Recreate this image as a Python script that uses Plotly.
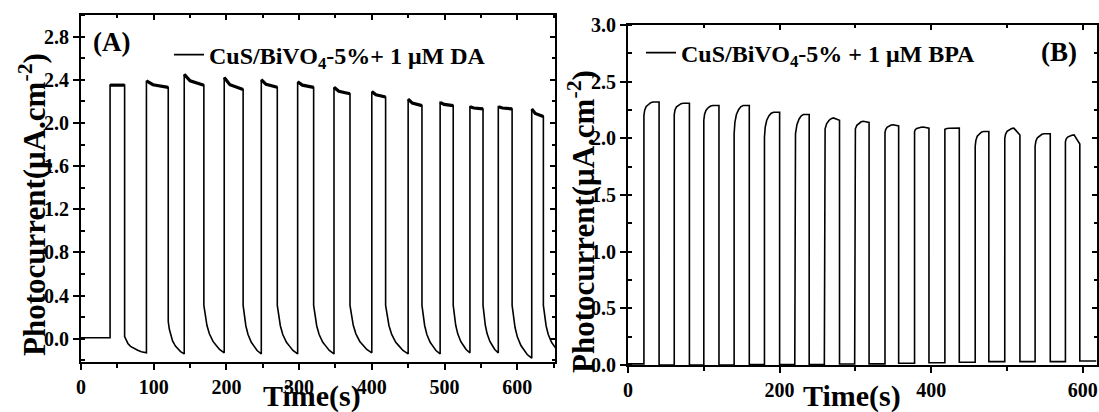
import plotly.graph_objects as go

# ---------------- data ----------------
# Panel A : CuS/BiVO4-5% + 1 uM DA
pre_level_A = 0.01
on_times_A = [40, 90, 142, 197, 248, 298, 348, 400, 450, 494, 535, 574, 620]
off_times_A = [60, 120, 169, 223, 270, 320, 370, 419, 469, 512, 553, 593, 636]
top_start_A = [2.35, 2.39, 2.45, 2.42, 2.40, 2.38, 2.33, 2.29, 2.22, 2.19, 2.15, 2.15, 2.13]
top_end_A = [2.35, 2.33, 2.35, 2.31, 2.33, 2.33, 2.27, 2.24, 2.16, 2.16, 2.13, 2.13, 2.06]
off_start_A = [0.02, 0.16, 0.31, 0.31, 0.31, 0.31, 0.31, 0.31, 0.31, 0.31, 0.31, 0.31, 0.31]
off_end_A = [-0.13, -0.14, -0.13, -0.14, -0.14, -0.14, -0.13, -0.14, -0.14, -0.13, -0.13, -0.18, -0.14]
last_off_span_A = 25
# decay profile of an "off" period (fraction of period, normalised level)
decay_frac = [0.0, 0.07, 0.15, 0.27, 0.45, 0.60, 0.77, 1.0]
decay_level = [1.0, 0.76, 0.58, 0.40, 0.24, 0.16, 0.07, 0.0]

# Panel B : CuS/BiVO4-5% + 1 uM BPA
on_times_B = [21, 61, 100, 140, 180, 220, 259, 299, 339, 378, 418, 458, 497, 537, 577]
off_times_B = [41, 81, 120, 160, 200, 239, 279, 318, 357, 397, 437, 476, 517, 557, 596]
top_start_B = [2.20, 2.21, 2.16, 2.04, 2.01, 1.93, 2.02, 2.04, 2.05, 2.06, 2.08, 1.93, 2.00, 1.93, 1.97]
top_peak_B = [2.32, 2.31, 2.29, 2.29, 2.23, 2.21, 2.18, 2.15, 2.12, 2.10, 2.09, 2.06, 2.09, 2.04, 2.03]
top_end_B = [2.32, 2.31, 2.29, 2.29, 2.23, 2.21, 2.16, 2.14, 2.11, 2.09, 2.09, 2.06, 2.03, 2.04, 1.95]
off_level_B = [0.01, 0.0, 0.0, 0.0, 0.005, 0.005, 0.005, 0.009, 0.01, 0.015, 0.02, 0.024, 0.03, 0.03, 0.03, 0.035]
end_time_B = 618
rise_frac = [0.0, 0.05, 0.15, 0.30, 0.45, 0.60]
rise_level = [0.0, 0.40, 0.68, 0.86, 0.96, 1.0]

# tick labels
xticks_A = [0, 100, 200, 300, 400, 500, 600]
yticks_A = [0.0, 0.4, 0.8, 1.2, 1.6, 2.0, 2.4, 2.8]
xticks_B = [0, 200, 400, 600]
yticks_B = [0.0, 0.5, 1.0, 1.5, 2.0, 2.5, 3.0]

legend_A = "CuS/BiVO<sub>4</sub>-5%+ 1 μM DA"
legend_B = "CuS/BiVO<sub>4</sub>-5% + 1 μM BPA"

# ---------------- build traces ----------------
xA, yA = [0, on_times_A[0]], [pre_level_A, pre_level_A]
xA_top, yA_top = [], []
n = len(on_times_A)
for i in range(n):
    t_on, t_off = on_times_A[i], off_times_A[i]
    s, e = top_start_A[i], top_end_A[i]
    tops_x = [t_on, t_on + 0.3 * (t_off - t_on), t_off]
    tops_y = [s, s - 0.6 * (s - e), e]
    xA += tops_x
    yA += tops_y
    xA_top += tops_x + [None]
    yA_top += tops_y + [None]
    span = (on_times_A[i + 1] - t_off) if i + 1 < n else last_off_span_A
    a, b = off_start_A[i], off_end_A[i]
    for f, lv in zip(decay_frac, decay_level):
        xA.append(t_off + f * span)
        yA.append(b + lv * (a - b))

xB, yB = [0], [off_level_B[0]]
for i in range(len(on_times_B)):
    t_on, t_off = on_times_B[i], off_times_B[i]
    s, p, e = top_start_B[i], top_peak_B[i], top_end_B[i]
    xB += [t_on]
    yB += [off_level_B[i]]
    for f, lv in zip(rise_frac, rise_level):
        xB.append(t_on + f * (t_off - t_on))
        yB.append(s + lv * (p - s))
    xB += [t_off, t_off]
    yB += [e, off_level_B[i + 1]]
xB.append(end_time_B)
yB.append(off_level_B[-1])

FONT = "Liberation Serif"
W, H = 1099, 412


def px(xp):
    return xp / W


def py(yp):
    return (H - yp) / H


fig = go.Figure()
fig.add_trace(go.Scatter(x=xA, y=yA, mode="lines", name=legend_A,
                         line=dict(color="black", width=1.6), legend="legend",
                         xaxis="x", yaxis="y"))
fig.add_trace(go.Scatter(x=xA_top, y=yA_top, mode="lines", showlegend=False,
                         line=dict(color="black", width=3.2), xaxis="x", yaxis="y"))
fig.add_trace(go.Scatter(x=xB, y=yB, mode="lines", name=legend_B,
                         line=dict(color="black", width=1.6), legend="legend2",
                         xaxis="x2", yaxis="y2"))
# empty traces so the mirrored (inside) tick axes are drawn
for xa, ya in [("x3", "y"), ("x", "y3"), ("x4", "y2"), ("x2", "y4")]:
    fig.add_trace(go.Scatter(x=[], y=[], xaxis=xa, yaxis=ya, showlegend=False, hoverinfo="skip"))

tickfont = dict(family=FONT, size=20, color="black")
domA_x = [px(81), px(555)]
domA_y = [py(362), py(15)]
domB_x = [px(628), px(1096.5)]
domB_y = [py(365), py(25)]
rngA_x = [0, 652]
rngA_y = [-0.215, 3.0]
rngB_x = [0, 618]
rngB_y = [0, 3.0]


def bold(vals, fmt):
    return ["<b>" + fmt.format(v) + "</b>" for v in vals]


common = dict(showgrid=False, zeroline=False, showline=True, linecolor="black", linewidth=2,
              tickcolor="black", tickwidth=2, ticklen=6, tickfont=tickfont, mirror=True,
              ticks="outside", automargin=False)


def inside(overlay, anchor, side, rng, dt, mdt):
    return dict(overlaying=overlay, anchor=anchor, side=side, range=rng, tick0=0, dtick=dt,
                ticks="inside", showticklabels=False, showgrid=False, zeroline=False,
                showline=False, tickcolor="black", tickwidth=2, ticklen=5, automargin=False,
                minor=dict(dtick=mdt, ticks="inside", ticklen=3, tickwidth=2, tickcolor="black"))


fig.update_layout(
    width=W, height=H, autosize=False,
    margin=dict(l=0, r=0, t=0, b=0, pad=0, autoexpand=False),
    paper_bgcolor="white", plot_bgcolor="white",
    xaxis=dict(domain=domA_x, anchor="y", range=rngA_x, tickmode="array", tickvals=xticks_A,
               ticktext=bold(xticks_A, "{:d}"),
               minor=dict(tick0=0, dtick=50, ticks="outside", ticklen=4, tickwidth=2, tickcolor="black"),
               **common),
    yaxis=dict(domain=domA_y, anchor="x", range=rngA_y, tickmode="array", tickvals=yticks_A,
               ticktext=bold(yticks_A, "{:.1f}"),
               minor=dict(tick0=0, dtick=0.2, ticks="inside", ticklen=4, tickwidth=2, tickcolor="black"),
               **common),
    xaxis3=inside("x", "y", "top", rngA_x, 100, 50),
    yaxis3=inside("y", "x", "right", rngA_y, 0.4, 0.2),
    xaxis2=dict(domain=domB_x, anchor="y2", range=rngB_x, tickmode="array", tickvals=xticks_B,
                ticktext=bold(xticks_B, "{:d}"),
                minor=dict(tick0=0, dtick=100, ticks="outside", ticklen=4, tickwidth=2, tickcolor="black"),
                **common),
    yaxis2=dict(domain=domB_y, anchor="x2", range=rngB_y, tickmode="array", tickvals=yticks_B,
                ticktext=bold(yticks_B, "{:.1f}"),
                minor=dict(tick0=0, dtick=0.25, ticks="inside", ticklen=4, tickwidth=2, tickcolor="black"),
                **common),
    xaxis4=inside("x2", "y2", "top", rngB_x, 200, 100),
    yaxis4=inside("y2", "x2", "right", rngB_y, 0.5, 0.25),
    legend=dict(x=px(169), y=py(55), xanchor="left", yanchor="middle",
                bgcolor="rgba(0,0,0,0)", borderwidth=0,
                font=dict(family=FONT, size=24, color="black", weight="bold")),
    legend2=dict(x=px(641), y=py(53), xanchor="left", yanchor="middle",
                 bgcolor="rgba(0,0,0,0)", borderwidth=0,
                 font=dict(family=FONT, size=24, color="black", weight="bold")),
)

title_font = dict(family=FONT, size=31, color="black")
fig.add_annotation(text="<b>Photocurrent(μA.cm<sup>-2</sup>)</b>", textangle=-90,
                   xref="paper", yref="paper", x=px(32), y=py(205),
                   xanchor="center", yanchor="middle", showarrow=False, font=title_font)
fig.add_annotation(text="<b>Photocurrent(μA.cm<sup>-2</sup>)</b>", textangle=-90,
                   xref="paper", yref="paper", x=px(581), y=py(222),
                   xanchor="center", yanchor="middle", showarrow=False, font=title_font)
fig.add_annotation(text="<b>Time(s)</b>", xref="paper", yref="paper", x=px(312), y=py(396),
                   xanchor="center", yanchor="middle", showarrow=False,
                   font=dict(family=FONT, size=30, color="black"))
fig.add_annotation(text="<b>Time(s)</b>", xref="paper", yref="paper", x=px(852), y=py(396),
                   xanchor="center", yanchor="middle", showarrow=False,
                   font=dict(family=FONT, size=30, color="black"))
fig.add_annotation(text="<b>(A)</b>", xref="paper", yref="paper", x=px(111), y=py(42),
                   xanchor="center", yanchor="middle", showarrow=False,
                   font=dict(family=FONT, size=27, color="black"))
fig.add_annotation(text="<b>(B)</b>", xref="paper", yref="paper", x=px(1059), y=py(52),
                   xanchor="center", yanchor="middle", showarrow=False,
                   font=dict(family=FONT, size=27, color="black"))

# the page's default 8px body margin would push the 1099x412 figure out of the window
fig.write_html("out.html", config={"displayModeBar": False},
               post_script="document.body.style.margin='0';document.body.style.overflow='hidden';")
